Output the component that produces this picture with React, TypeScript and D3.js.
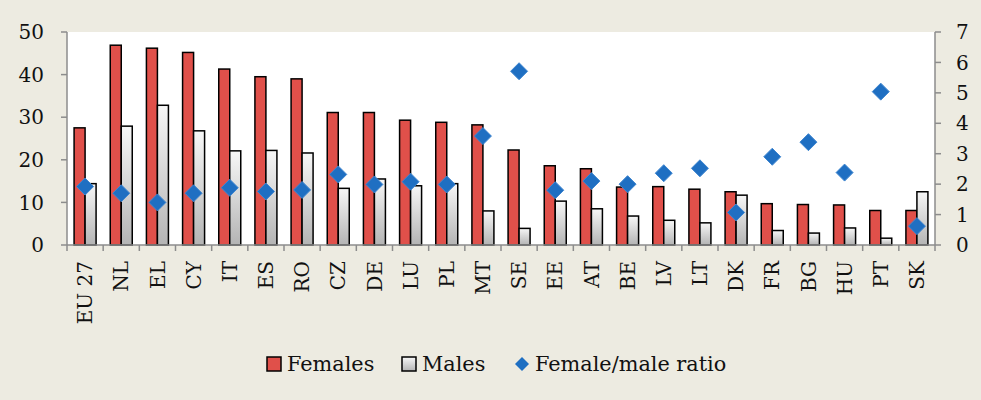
import React from "react";
import * as d3 from "d3";

const categories = ["EU 27","NL","EL","CY","IT","ES","RO","CZ","DE","LU","PL","MT","SE","EE","AT","BE","LV","LT","DK","FR","BG","HU","PT","SK"];
const females = [27.5,46.9,46.2,45.2,41.3,39.5,39.0,31.1,31.1,29.3,28.8,28.2,22.3,18.6,17.9,13.6,13.7,13.1,12.5,9.7,9.5,9.4,8.1,8.1];
const males = [14.4,27.9,32.8,26.8,22.1,22.2,21.6,13.3,15.5,13.9,14.4,8.0,3.9,10.3,8.5,6.8,5.8,5.2,11.7,3.4,2.8,4.0,1.6,12.5];
const ratio = [1.92,1.70,1.40,1.70,1.88,1.76,1.81,2.32,1.99,2.08,1.99,3.58,5.71,1.80,2.10,2.00,2.36,2.52,1.07,2.90,3.38,2.38,5.04,0.62];
const leftTicks = [0,10,20,30,40,50];
const rightTicks = [0,1,2,3,4,5,6,7];

const W = 981, H = 400;
const M = { left: 67, right: 935, top: 32, bottom: 245 };
const FONT = "'DejaVu Serif', serif";
const FS = 20;

export default function App() {
  const x = d3.scaleBand<string>().domain(categories).range([M.left, M.right]).padding(0);
  const yL = d3.scaleLinear().domain([0, 50]).range([M.bottom, M.top]);
  const yR = d3.scaleLinear().domain([0, 7]).range([M.bottom, M.top]);
  const bw = 11;
  const bandTicks = d3.range(categories.length + 1).map(i => M.left + i * x.bandwidth());
  const diamond = (cx: number, cy: number, r: number) => `M${cx},${cy - r}L${cx + r},${cy}L${cx},${cy + r}L${cx - r},${cy}Z`;
  const axisColor = "#8c8c8c";

  return (
    <svg width={W} height={H} style={{ position: "absolute", left: 0, top: 0 }} fontFamily={FONT}>
      <defs>
        <linearGradient id="mg" x1="0" y1="0" x2="0" y2="1">
          <stop offset="0" stopColor="#f7f7f7" />
          <stop offset="1" stopColor="#b4b4b4" />
        </linearGradient>
      </defs>
      <rect x={0} y={0} width={W} height={H} fill="#EDEBE1" />
      <rect x={M.left} y={M.top} width={M.right - M.left} height={M.bottom - M.top} fill="#ffffff" />
      {categories.map((c, i) => {
        const cx = x(c)! + x.bandwidth() / 2;
        return (
          <g key={c}>
            <rect x={cx - bw} y={yL(females[i])} width={bw} height={yL(0) - yL(females[i])} fill="#E0504A" stroke="#000" strokeWidth={1.5} />
            <rect x={cx} y={yL(males[i])} width={bw} height={yL(0) - yL(males[i])} fill="url(#mg)" stroke="#000" strokeWidth={1.5} />
          </g>
        );
      })}
      {categories.map((c, i) => {
        const cx = x(c)! + x.bandwidth() / 2;
        return <path key={"d" + c} d={diamond(cx, yR(ratio[i]), 8.5)} fill="#1F6FC2" stroke="#3F86D0" strokeWidth={1} />;
      })}
      {/* left axis */}
      <line x1={M.left} x2={M.left} y1={M.top} y2={M.bottom} stroke={axisColor} strokeWidth={1.5} />
      {leftTicks.map(t => (
        <g key={"l" + t}>
          <line x1={M.left - 6} x2={M.left} y1={yL(t)} y2={yL(t)} stroke={axisColor} strokeWidth={1.5} />
          <text x={44} y={yL(t)} dy="0.36em" textAnchor="end" fontSize={FS} fill="#111">{t}</text>
        </g>
      ))}
      {/* right axis */}
      <line x1={M.right} x2={M.right} y1={M.top} y2={M.bottom} stroke={axisColor} strokeWidth={1.5} />
      {rightTicks.map(t => (
        <g key={"r" + t}>
          <line x1={M.right} x2={M.right + 6} y1={yR(t)} y2={yR(t)} stroke={axisColor} strokeWidth={1.5} />
          <text x={956} y={yR(t)} dy="0.36em" textAnchor="start" fontSize={FS} fill="#111">{t}</text>
        </g>
      ))}
      {/* bottom axis */}
      <line x1={M.left} x2={M.right} y1={M.bottom} y2={M.bottom} stroke={axisColor} strokeWidth={1.5} />
      {bandTicks.map((t, i) => (
        <line key={"b" + i} x1={t} x2={t} y1={M.bottom} y2={M.bottom + 6} stroke={axisColor} strokeWidth={1.5} />
      ))}
      {categories.map(c => {
        const cx = x(c)! + x.bandwidth() / 2;
        return (
          <text key={"t" + c} transform={`translate(${cx},261) rotate(-90)`} dy="0.36em" textAnchor="end" fontSize={FS} fill="#111">{c}</text>
        );
      })}
      {/* legend */}
      <g fontSize={20.8} fill="#111">
        <rect x={267} y={357} width={14} height={14} fill="#E0504A" stroke="#000" strokeWidth={1.5} />
        <text x={287} y={364} dy="0.36em">Females</text>
        <rect x={402} y={357} width={14} height={14} fill="url(#mg)" stroke="#000" strokeWidth={1.5} />
        <text x={422} y={364} dy="0.36em">Males</text>
        <path d={diamond(522, 364, 7)} fill="#1F6FC2" />
        <text x={535} y={364} dy="0.36em">Female/male ratio</text>
      </g>
    </svg>
  );
}
